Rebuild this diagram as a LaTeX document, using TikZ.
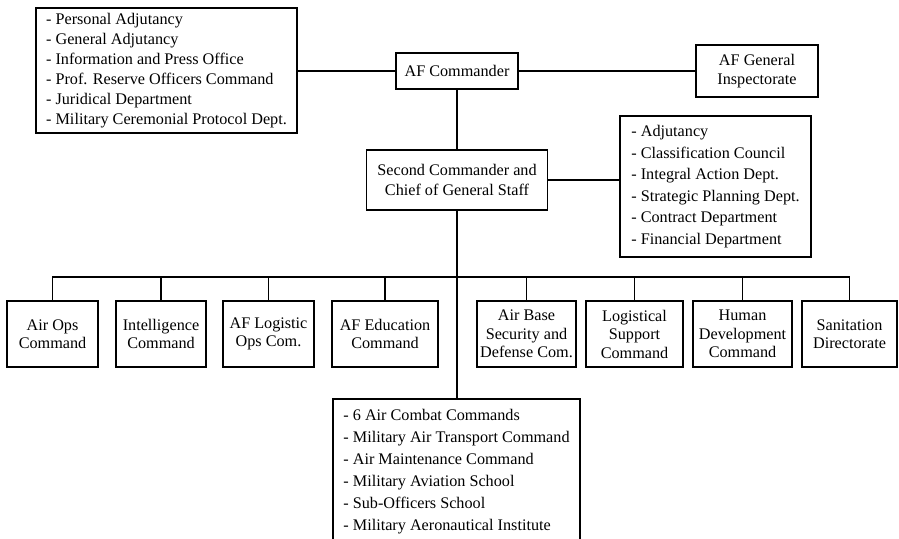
\documentclass[tikz,border=0pt]{standalone}
\usepackage{fontspec}
\setmainfont{Liberation Serif}
\begin{document}
\begin{tikzpicture}[x=1pt,y=-1pt,
  unit/.style={draw, line width=1.1pt, inner sep=0pt, align=center,
    font=\fontsize{16.2}{18.5}\selectfont},
  listbox/.style={draw, line width=1.1pt, inner sep=0pt, align=left},
  link/.style={line width=1.1pt}]
\useasboundingbox (0,0) rectangle (899,538);
\clip (0,0) rectangle (899,538);

% top level
\node[listbox, minimum width=261pt, minimum height=125pt,
  font=\fontsize{16.2}{19.9}\selectfont] (staff) at (166.5,70.5)
  {- Personal Adjutancy\\- General Adjutancy\\- Information and Press Office\\- Prof. Reserve Officers Command\\- Juridical Department\\- Military Ceremonial Protocol Dept.};
\node[unit, minimum width=122pt, minimum height=36pt] (cmd) at (457,71) {AF Commander};
\node[unit, minimum width=122pt, minimum height=52pt] (insp) at (757,71) {AF General\\Inspectorate};

% second level
\node[unit, minimum width=181pt, minimum height=60pt,
  font=\fontsize{16.2}{20}\selectfont] (second) at (457,180) {Second Commander and\\Chief of General Staff};
\node[listbox, minimum width=191pt, minimum height=141pt,
  font=\fontsize{16.2}{21.5}\selectfont] (gs) at (715.5,186.5)
  {- Adjutancy\\- Classification Council\\- Integral Action Dept.\\- Strategic Planning Dept.\\- Contract Department\\- Financial Department};

% commands row
\node[unit, minimum width=91pt, minimum height=66pt] (b1) at (52.5,334) {Air Ops\\Command};
\node[unit, minimum width=90pt, minimum height=66pt] (b2) at (161,334) {Intelligence\\Command};
\node[unit, minimum width=91pt, minimum height=66pt] (b3) at (268.5,334) {AF Logistic\\Ops Com.};
\node[unit, minimum width=106pt, minimum height=66pt] (b4) at (385,334) {AF Education\\Command};
\node[unit, minimum width=99pt, minimum height=66pt] (b5) at (526.5,334) {Air Base\\Security and\\Defense Com.};
\node[unit, minimum width=97pt, minimum height=66pt] (b6) at (634.5,334) {Logistical\\Support\\Command};
\node[unit, minimum width=99pt, minimum height=66pt] (b7) at (742.5,334) {Human\\Development\\Command};
\node[unit, minimum width=95pt, minimum height=66pt] (b8) at (849.5,334) {Sanitation\\Directorate};

% operational units
\node[listbox, minimum width=247pt, minimum height=145pt,
  font=\fontsize{16.2}{22}\selectfont] (ops) at (456.5,471.5)
  {- 6 Air Combat Commands\\- Military Air Transport Command\\- Air Maintenance Command\\- Military Aviation School\\- Sub-Officers School\\- Military Aeronautical Institute};

% connectors
\draw[link] (cmd.west) -- (cmd.west -| staff.east);
\draw[link] (cmd.east) -- (insp.west);
\draw[link] (cmd.south) -- (second.north);
\draw[link] (second.east) -- (second.east -| gs.west);
\draw[link] (second.south) -- (second.south |- ops.north);
\coordinate (bus) at (457,277);
\draw[link] (b1.north) |- (bus) -| (b8.north);
\foreach \b in {b2,b3,b4,b5,b6,b7}
  \draw[link] (\b.north) -- (\b.north |- bus);
\end{tikzpicture}
\end{document}
